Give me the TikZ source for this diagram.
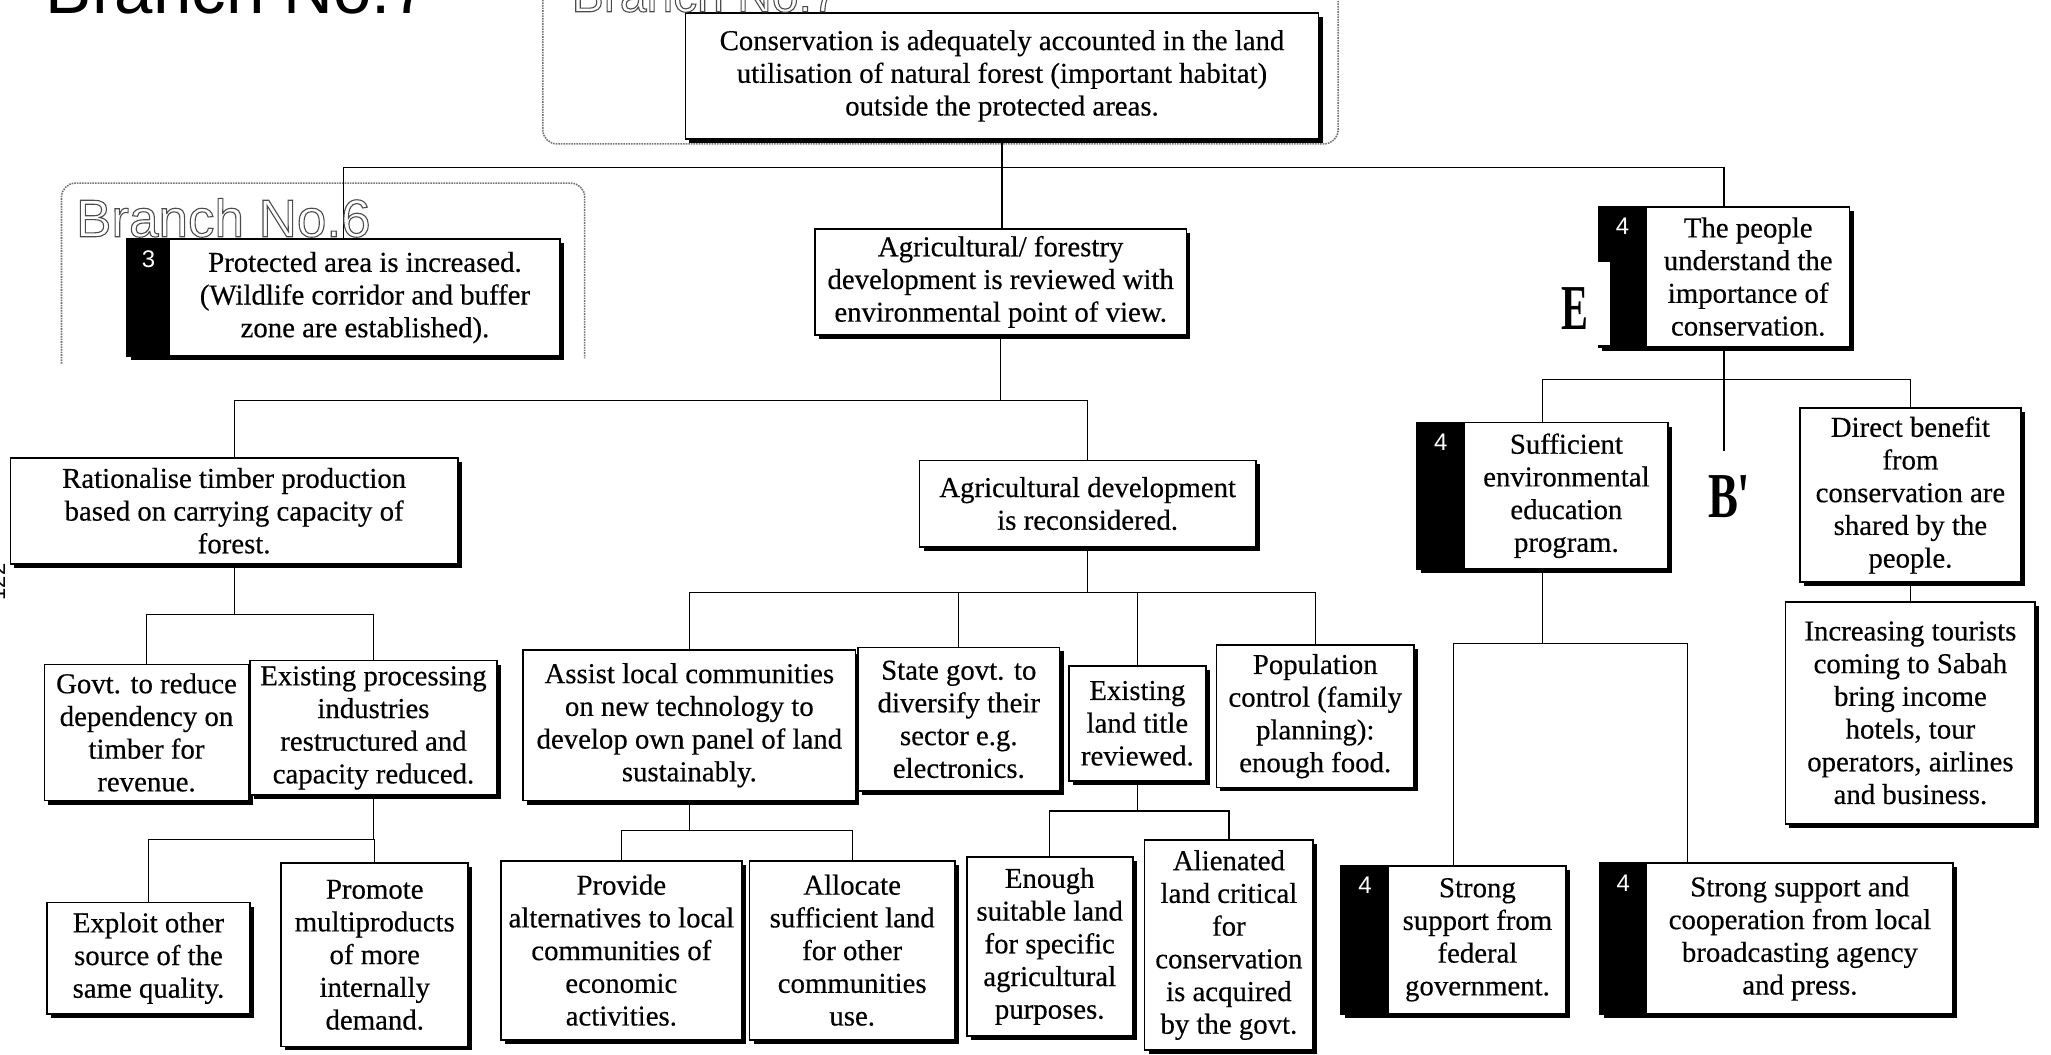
\documentclass[tikz,border=0pt]{standalone}
\usepackage{fontspec}
\setmainfont{Liberation Serif}
\newfontfamily\boxfont{Liberation Serif}[FakeBold=0.4]
\newfontfamily\sansf{Liberation Sans}
\usetikzlibrary{shadows}
\pgfdeclarelayer{bg}
\pgfsetlayers{bg,main}
\newcommand\outl[1]{\special{pdf:literal direct 1 Tr 1.1 w 0.3 G}#1\special{pdf:literal direct 0 Tr 0 G}}
\tikzset{
  box/.style={draw=black, line width=1.8pt, fill=white, inner sep=0pt,
    drop shadow={shadow xshift=4pt, shadow yshift=-4pt, opacity=1, fill=black}},
  txt/.style={align=center, inner sep=0pt, font=\boxfont\fontsize{28.8}{32.7}\selectfont},
  conn/.style={line width=1.2pt},
  frame/.style={draw=black!55, densely dotted, line width=1.6pt, rounded corners=14pt},
  dig/.style={text=white, font=\sansf\fontsize{24}{24}\selectfont, inner sep=0pt},
  lbl/.style={font=\bfseries\fontsize{64}{64}\selectfont, inner sep=0pt},
}
\newcommand\bx[6]{\node[box,txt,minimum width={(#4-#2)*1.308pt},minimum height={(#5-#3)*1.308pt}] (#1) at ({(#2+#4)/2},{(#3+#5)/2}) {#6};}
\newcommand\nbx[8]{%
  \node[box,minimum width={(#4-#2)*1.308pt},minimum height={(#5-#3)*1.308pt}] (#1) at ({(#2+#4)/2},{(#3+#5)/2}) {};
  \fill[black] (#1.north west) rectangle (#6,#5);
  \node[dig] (#1d) at ({(#2+#6)/2},{#3+15}) {#7};
  \node[txt] (#1t) at ({(#6+#4)/2},{(#3+#5)/2}) {#8};}
\begin{document}
\begin{tikzpicture}[x=1.308pt,y=-1.308pt]
\useasboundingbox (0,0) rectangle (1568,806);
\begin{pgfonlayer}{bg}
\fill[white] (0,0) rectangle (1568,806);
\end{pgfonlayer}

% boxes
\bx{top}{524}{10}{1008}{106}{Conservation is adequately accounted in the land\\utilisation of natural forest (important habitat)\\outside the protected areas.}
\nbx{bthree}{97}{183}{428}{272}{130}{3}{Protected area is increased.\\(Wildlife corridor and buffer\\zone are established).}
\bx{agf}{623}{175}{907}{256}{Agricultural/ forestry\\development is reviewed with\\environmental point of view.}
\nbx{people}{1222}{158}{1414}{265}{1259}{4}{The people\\understand the\\importance of\\conservation.}
\fill[white] (1220.5,200) rectangle (1230.5,264);
\bx{rat}{8}{350}{350}{431}{Rationalise timber production\\based on carrying capacity of\\forest.}
\bx{agd}{703}{352}{960}{418}{Agricultural development\\is reconsidered.}
\nbx{suff}{1083}{323}{1275}{435}{1120}{4}{Sufficient\\environmental\\education\\program.}
\bx{direct}{1376}{312}{1545}{445}{Direct benefit\\from\\conservation are\\shared by the\\people.}
\bx{incr}{1365}{460}{1556}{630}{Increasing tourists\\coming to Sabah\\bring income\\hotels, tour\\operators, airlines\\and business.}
\bx{govt}{34}{508}{190}{612}{Govt. to reduce\\dependency on\\timber for\\revenue.}
\bx{exproc}{191}{505}{380}{608}{Existing processing\\industries\\restructured and\\capacity reduced.}
\bx{assist}{400}{497}{654}{612}{Assist local communities\\on new technology to\\develop own panel of land\\sustainably.}
\bx{state}{656}{495}{810}{605}{State govt. to\\diversify their\\sector e.g.\\electronics.}
\bx{land}{817}{509}{922}{597}{Existing\\land title\\reviewed.}
\bx{pop}{930}{493}{1081}{602}{Population\\control (family\\planning):\\enough food.}
\bx{exploit}{36}{690}{191}{775}{Exploit other\\source of the\\same quality.}
\bx{promote}{215}{660}{358}{800}{Promote\\multiproducts\\of more\\internally\\demand.}
\bx{provide}{383}{658}{567}{795}{Provide\\alternatives to local\\communities of\\economic\\activities.}
\bx{allocate}{573}{658}{730}{795}{Allocate\\sufficient land\\for other\\communities\\use.}
\bx{enough}{739}{655}{866}{792}{Enough\\suitable land\\for specific\\agricultural\\purposes.}
\bx{alien}{875}{642}{1004}{803}{Alienated\\land critical\\for\\conservation\\is acquired\\by the govt.}
\nbx{federal}{1025}{662}{1197}{775}{1062}{4}{Strong\\support from\\federal\\government.}
\nbx{coop}{1223}{660}{1493}{775}{1259}{4}{Strong support and\\cooperation from local\\broadcasting agency\\and press.}

% labels
\node[lbl] (lE) at (1204,236) {\scalebox{0.63}[1]{E}};
\node[lbl] (lB) at (1322,380) {\scalebox{0.7}[1]{B\textquotesingle}};
\node[anchor=base west, inner sep=0pt, font=\sansf\fontsize{69}{69}\selectfont] (brseven) at (35,10) {Branch No.7};
\node[anchor=base west, inner sep=0pt, font=\sansf\fontsize{48}{48}\selectfont] (brsevenb) at (437,9) {\outl{Branch No.7}};
\node[anchor=base west, inner sep=0pt, font=\sansf\fontsize{53}{53}\selectfont] (brsix) at (58,181) {\outl{Branch No.6}};
\node[rotate=90, anchor=south, inner sep=0pt, font=\sansf\fontsize{22}{22}\selectfont] (pg) at (4,445) {122};

% bus coordinates
\coordinate (busa) at (0,128);
\coordinate (busb) at (0,306);
\coordinate (busc) at (0,470);
\coordinate (busd) at (0,642);
\coordinate (buse) at (0,453);
\coordinate (busf) at (0,635);
\coordinate (busg) at (0,290);
\coordinate (bush) at (0,492);
\coordinate (busi) at (0,620);
\coordinate (peopleend) at (1318,345);
\coordinate (coopx) at (1290,0);

\begin{pgfonlayer}{bg}
\draw[frame] (415,-20) -- (415,110) -- (1023,110) -- (1023,-20);
\draw[frame] (47,278) -- (47,140) -- (447,140) -- (447,274);
\draw[conn] (top.south) -- (top.south |- agf.north);
\draw[conn] (bthree.north) |- (people.north |- busa) -- (people.north);
\draw[conn] (agf.south) -- (agf.south |- busb);
\draw[conn] (rat.north) |- (agd.north |- busb) -- (agd.north);
\draw[conn] (rat.south) -- (rat.south |- busc);
\draw[conn] (govt.north) |- (exproc.north |- busc) -- (exproc.north);
\draw[conn] (exproc.south) -- (exproc.south |- busd);
\draw[conn] (exploit.north) |- (promote.north |- busd) -- (promote.north);
\draw[conn] (agd.south) -- (agd.south |- buse);
\draw[conn] (assist.north) |- (pop.north |- buse) -- (pop.north);
\draw[conn] (state.north) -- (state.north |- buse);
\draw[conn] (land.north) -- (land.north |- buse);
\draw[conn] (assist.south) -- (assist.south |- busf);
\draw[conn] (provide.north) |- (allocate.north |- busf) -- (allocate.north);
\draw[conn] (land.south) -- (land.south |- busi);
\draw[conn] (enough.north) |- (alien.north |- busi) -- (alien.north);
\draw[conn] (people.south) -- (peopleend);
\draw[conn] (suff.north) |- (direct.north |- busg) -- (direct.north);
\draw[conn] (direct.south) -- (incr.north);
\draw[conn] (suff.south) -- (suff.south |- bush);
\draw[conn] (federal.north) |- (coopx |- bush) -- (coopx |- coop.north);
\end{pgfonlayer}
\end{tikzpicture}
\end{document}
